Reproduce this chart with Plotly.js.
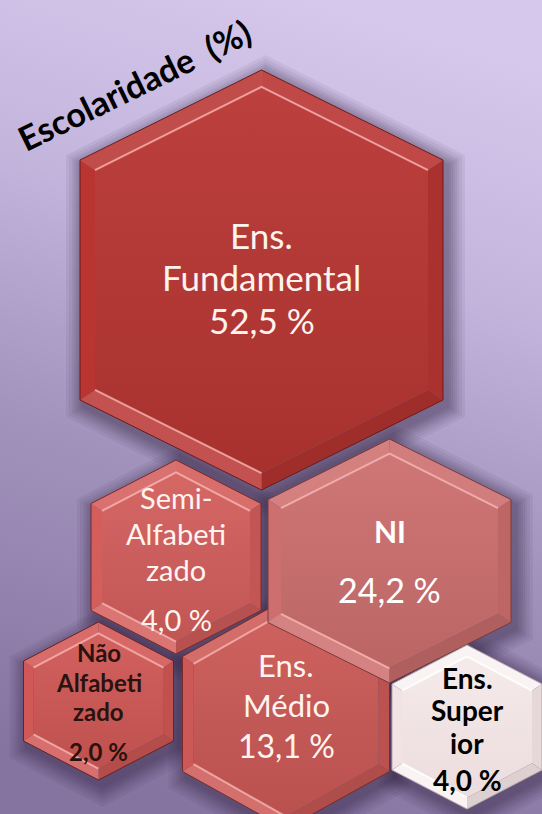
<!DOCTYPE html>
<html>
<head>
<meta charset="utf-8">
<script src="https://cdn.plot.ly/plotly-3.0.1.min.js"></script>
<style>html,body{margin:0;padding:0;background:#b3a4cc;}#chart{width:542px;height:814px;}</style>
</head>
<body>
<div id="chart"></div>
<script>
// ---- data ----
const categories = ["Ens. Fundamental", "Semi-Alfabetizado", "NI", "Não Alfabetizado", "Ens. Médio", "Ens. Superior"];
const labelLines = [["Ens.", "Fundamental"], ["Semi-", "Alfabeti", "zado"], ["NI"], ["Não", "Alfabeti", "zado"], ["Ens.", "Médio"], ["Ens.", "Super", "ior"]];
const values = [52.5, 4.0, 24.2, 2.0, 13.1, 4.0];
const chartTitle = "Escolaridade\u00a0\u00a0(%)";

// ---- layout (pixel positions / sizes / styles) ----
const hexCx = [261.5, 176, 389.5, 98.5, 286, 467];
const hexCy = [280, 557, 561, 701, 714, 727];
const hexW = [181.5, 85, 121.5, 75, 103.5, 75];
const hexH = [210, 97, 122, 79, 115, 82];
const hexS = [120, 53.5, 61.5, 40, 57.5, 43];
const hexBevel = [15, 11, 13, 10, 11, 10];
const baseColor = ["#b93532", "#d45e5c", "#cd6f6e", "#d15856", "#cc5956", "#f2e2e3"];
const outlineColor = ["#6a1c1c", "#7a2a2a", "#7a3a3a", "#6a2222", "#7a2a2a", "#b8a8b0"];
const lineY0 = [235, 497, 530.5, 652.5, 665, 677.5];
const lineStep = [42, 36, 0, 29.5, 39.5, 32.5];
const valueY = [320, 619.5, 589, 751, 745, 780];
const nameSize = [35, 29, 30, 24, 31, 28];
const valueSize = [35, 29, 34, 24, 32, 28];
const nameBold = [false, false, true, true, false, true];
const valueBold = [false, false, false, true, false, true];
const textColor = ["#fdf3ee", "#fff4f0", "#ffffff", "#2a130e", "#fff4ef", "#000000"];
const drawOrder = [0, 4, 1, 3, 2, 5];
const FONT = "Lato, 'Open Sans', sans-serif";

function shade(hex, amt) {
  const n = parseInt(hex.slice(1), 16);
  let r = (n >> 16) & 255, g = (n >> 8) & 255, b = n & 255;
  const t = amt > 0 ? 255 : 0, a = Math.abs(amt);
  r = Math.round(r + (t - r) * a); g = Math.round(g + (t - g) * a); b = Math.round(b + (t - b) * a);
  return "rgb(" + r + "," + g + "," + b + ")";
}
function hexPts(cx, cy, w, h, s) {
  return {
    x: [cx, cx + w, cx + w, cx, cx - w, cx - w],
    y: [cy - h, cy - s, cy + s, cy + h, cy + s, cy - s]
  };
}
function closed(a) { return a.concat([a[0]]); }

const traces = [];
// soft drop shadows first
const shadowSteps = [18, 15, 12, 10, 8, 6, 4, 2];
drawOrder.forEach(function (i) {
  shadowSteps.forEach(function (e) {
    const p = hexPts(hexCx[i] + 4, hexCy[i] + 6, hexW[i] + e, hexH[i] + e * 1.15, hexS[i] + e * 0.6);
    traces.push({type: "scatter", mode: "lines", x: closed(p.x), y: closed(p.y), fill: "toself",
      fillcolor: "rgba(40,34,62,0.065)", line: {width: 0}, hoverinfo: "skip", showlegend: false});
  });
});

const facetShade = [0.10, -0.08, -0.14, 0.14, 0.0, 0.12];
drawOrder.forEach(function (i) {
  const cx = hexCx[i], cy = hexCy[i], w = hexW[i], h = hexH[i], s = hexS[i], b = hexBevel[i];
  const base = baseColor[i];
  const light = i === 5;
  const O = hexPts(cx, cy, w, h, s);
  const I = hexPts(cx, cy, w - b, h - b * 1.13, s - b * 0.67);
  for (let k = 0; k < 6; k++) {
    const k2 = (k + 1) % 6;
    const amt = light ? (facetShade[k] > 0 ? 0.6 : facetShade[k] * 0.6) : facetShade[k];
    traces.push({type: "scatter", mode: "lines",
      x: [O.x[k], O.x[k2], I.x[k2], I.x[k], O.x[k]],
      y: [O.y[k], O.y[k2], I.y[k2], I.y[k], O.y[k]],
      fill: "toself", fillcolor: shade(base, amt), line: {width: 0}, hoverinfo: "skip", showlegend: false});
  }
  // face
  traces.push({type: "scatter", mode: "lines", x: closed(I.x), y: closed(I.y), fill: "toself",
    fillgradient: {type: "vertical", start: cy - h, stop: cy + h,
      colorscale: [[0, shade(base, light ? 0.3 : 0.06)], [1, shade(base, light ? -0.03 : -0.1)]]},
    line: {width: 0}, hoverinfo: "skip", showlegend: false});
  // highlights along bevel crease
  const hl = light ? "rgba(255,255,255,0.95)" : "rgba(255,190,185,0.75)";
  traces.push({type: "scatter", mode: "lines", x: [I.x[5], I.x[0], I.x[1]], y: [I.y[5], I.y[0], I.y[1]],
    line: {color: hl, width: 2}, hoverinfo: "skip", showlegend: false});
  traces.push({type: "scatter", mode: "lines", x: [I.x[3], I.x[4]], y: [I.y[3], I.y[4]],
    line: {color: hl, width: 2}, hoverinfo: "skip", showlegend: false});
  // outline
  traces.push({type: "scatter", mode: "lines", x: closed(O.x), y: closed(O.y),
    line: {color: outlineColor[i], width: 1}, hoverinfo: "skip", showlegend: false});
});

const annotations = [];
categories.forEach(function (c, i) {
  labelLines[i].forEach(function (t, j) {
    annotations.push({x: hexCx[i], y: lineY0[i] + j * lineStep[i], xref: "x", yref: "y", text: t,
      showarrow: false, xanchor: "center", yanchor: "middle", borderpad: 0,
      font: {family: FONT, size: nameSize[i], color: textColor[i], weight: nameBold[i] ? "bold" : "normal"}});
  });
  annotations.push({x: hexCx[i], y: valueY[i], xref: "x", yref: "y",
    text: values[i].toFixed(1).replace(".", ",") + "\u00a0%",
    showarrow: false, xanchor: "center", yanchor: "middle", borderpad: 0,
    font: {family: FONT, size: valueSize[i], color: textColor[i], weight: valueBold[i] ? "bold" : "normal"}});
});
annotations.push({x: 134, y: 84, xref: "x", yref: "y", text: chartTitle, showarrow: false,
  textangle: -26, xanchor: "center", yanchor: "middle",
  font: {family: FONT, size: 34, color: "#000000", weight: "bold"}});

const bgSvg = '<svg xmlns="http://www.w3.org/2000/svg" width="542" height="814">' +
  '<defs><linearGradient id="g" x1="0.6" y1="0" x2="0.4" y2="1">' +
  '<stop offset="0" stop-color="#d6c8ec"/><stop offset="0.3" stop-color="#c3b4dc"/>' +
  '<stop offset="0.6" stop-color="#a293bd"/><stop offset="1" stop-color="#8573a0"/>' +
  '</linearGradient></defs><rect width="542" height="814" fill="url(#g)"/></svg>';

const layout = {
  width: 542, height: 814, autosize: false,
  margin: {l: 0, r: 0, t: 0, b: 0, pad: 0},
  paper_bgcolor: "rgba(0,0,0,0)", plot_bgcolor: "rgba(0,0,0,0)",
  xaxis: {range: [0, 542], visible: false, fixedrange: true},
  yaxis: {range: [814, 0], visible: false, fixedrange: true},
  showlegend: false,
  annotations: annotations,
  images: [{source: "data:image/svg+xml;charset=utf-8," + encodeURIComponent(bgSvg),
    xref: "paper", yref: "paper", x: 0, y: 1, sizex: 1, sizey: 1,
    xanchor: "left", yanchor: "top", sizing: "stretch", layer: "below"}]
};
Plotly.newPlot("chart", traces, layout, {displayModeBar: false, staticPlot: true});
</script>
</body>
</html>
